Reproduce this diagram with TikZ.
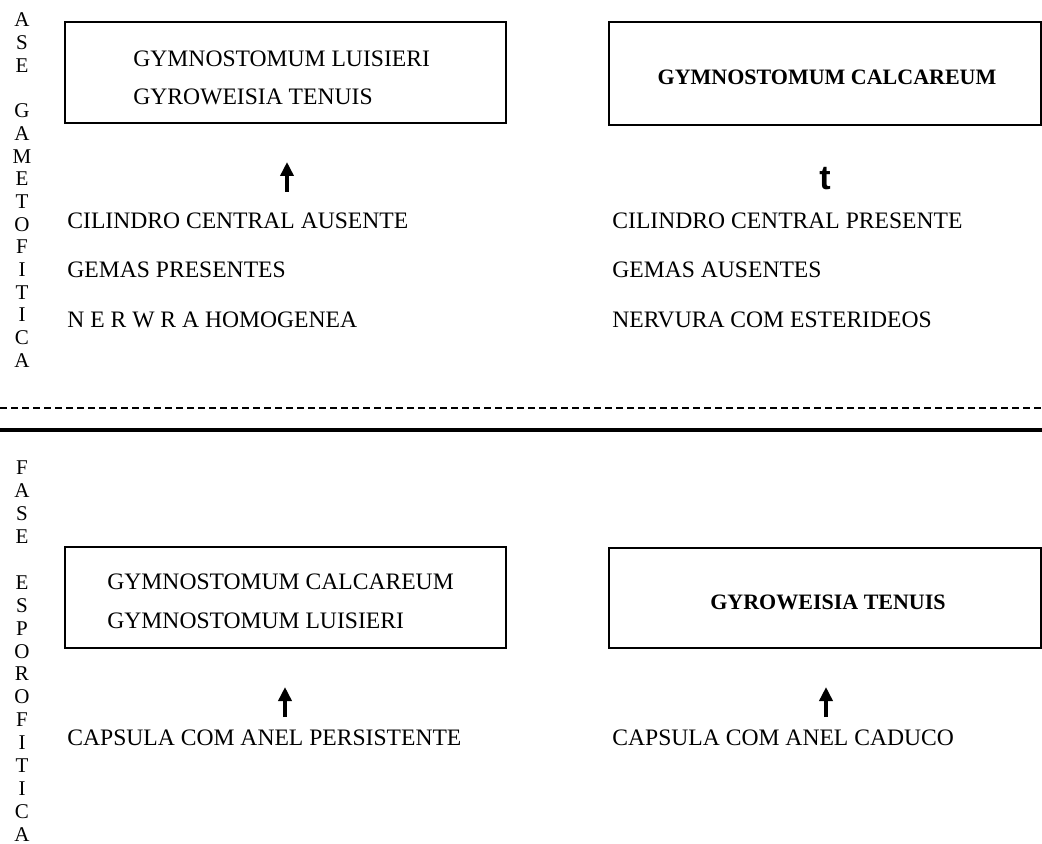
\documentclass[tikz,border=0pt]{standalone}
\usepackage{fontspec}
\setmainfont{Liberation Serif}
\setsansfont{Liberation Sans}
\usetikzlibrary{arrows.meta,positioning}

\begin{document}
\begin{tikzpicture}[x=0.5pt, y=-0.5pt,
					trait box/.style={draw, line width=1.2pt, inner sep=0pt},
					trait label/.style={anchor=west, inner sep=0pt, font=\fontsize{11.8}{14}\selectfont},
					taxon label/.style={inner sep=0pt, font=\bfseries\fontsize{11}{13}\selectfont},
					phase letter/.style={inner sep=0pt, font=\fontsize{10.5}{12}\selectfont},
					up arrow/.style={line width=1.8pt, -{Triangle[width=6.5pt, length=7pt]}},
				]
					\useasboundingbox (0,0) rectangle (1042,844);

					% fase gametofitica
					\foreach \l [count=\i from 0] in {A,S,E,{},G,A,M,E,T,O,F,I,T,I,C,A}
						\node[phase letter] (gam\i) at (22,20+22.7*\i) {\l};

					\node[trait box, minimum width=220.5pt, minimum height=50.5pt] (gbl) at (285.5,72.5) {};
					\node[trait label] (gbl1) at (133,59) {GYMNOSTOMUM LUISIERI};
					\node[trait label] (gbl2) at (133,97) {GYROWEISIA TENUIS};

					\node[trait box, minimum width=216pt, minimum height=51.5pt] (gbr) at (825,73.5) {};
					\node[taxon label] (gbr1) at (827,77) {GYMNOSTOMUM CALCAREUM};

					\coordinate (gas) at (287,192);
					\coordinate (gae) at (287,162);
					\draw[up arrow] (gas) -- (gae);
					\node[inner sep=0pt, font=\sffamily\bfseries\fontsize{17}{19}\selectfont] (gat) at (825,179) {t};

					\node[trait label] (gl1) at (67,221) {CILINDRO CENTRAL AUSENTE};
					\node[trait label] (gl2) at (67,270) {GEMAS PRESENTES};
					\node[trait label] (gl3) at (67,320) {N E R W R A HOMOGENEA};

					\node[trait label] (gr1) at (612,221) {CILINDRO CENTRAL PRESENTE};
					\node[trait label] (gr2) at (612,270) {GEMAS AUSENTES};
					\node[trait label] (gr3) at (612,320) {NERVURA COM ESTERIDEOS};

					% separacao
					\coordinate (dl) at (0,408);
					\coordinate (dr) at (1042,408);
					\draw[line width=1pt, dash pattern=on 3.5pt off 2pt] (dl) -- (dr);
					\coordinate (sl) at (0,430);
					\coordinate (sr) at (1042,430);
					\draw[line width=1.8pt] (sl) -- (sr);

					% fase esporofitica
					\foreach \l [count=\i from 0] in {F,A,S,E,{},E,S,P,O,R,O,F,I,T,I,C,A}
						\node[phase letter] (esp\i) at (22,468+22.9*\i) {\l};

					\node[trait box, minimum width=220.5pt, minimum height=50.5pt] (ebl) at (285.5,597.5) {};
					\node[trait label] (ebl1) at (107,582) {GYMNOSTOMUM CALCAREUM};
					\node[trait label] (ebl2) at (107,621) {GYMNOSTOMUM LUISIERI};

					\node[trait box, minimum width=216pt, minimum height=50pt] (ebr) at (825,598) {};
					\node[taxon label] (ebr1) at (828,602) {GYROWEISIA TENUIS};

					\coordinate (eas) at (285,717);
					\coordinate (eae) at (285,687);
					\draw[up arrow] (eas) -- (eae);
					\coordinate (ebs) at (826,717);
					\coordinate (ebe) at (826,687);
					\draw[up arrow] (ebs) -- (ebe);

					\node[trait label] (el1) at (67,738) {CAPSULA COM ANEL PERSISTENTE};
					\node[trait label] (er1) at (612,738) {CAPSULA COM ANEL CADUCO};
				\end{tikzpicture}
\end{document}
